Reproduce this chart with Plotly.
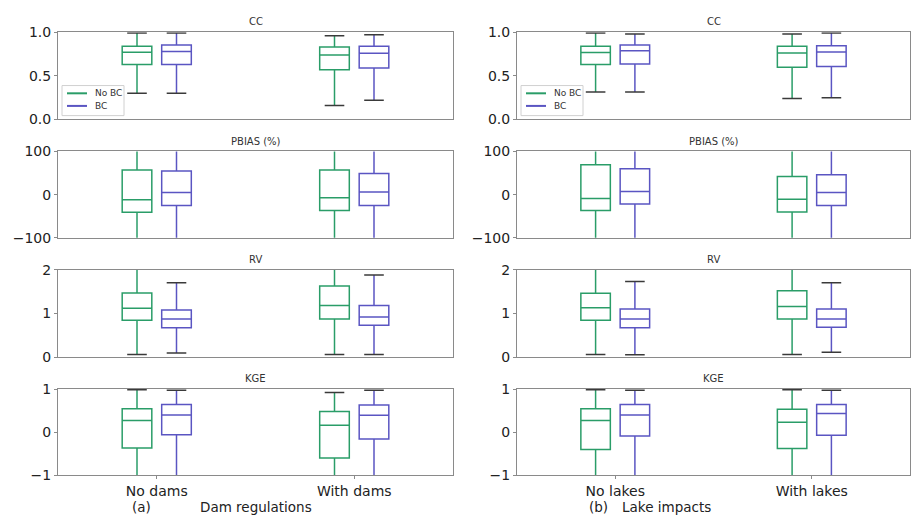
import plotly.graph_objects as go

W, H = 912, 524

metrics = ["CC", "PBIAS (%)", "RV", "KGE"]
cats_a = ["No dams", "With dams"]
cats_b = ["No lakes", "With lakes"]
series = ["No BC", "BC"]

# stats: [lowerfence, q1, median, q3, upperfence] per category, per series
# Panel (a) Dam regulations
a_nobc = {
    "CC":        [[0.30, 0.63, 0.77, 0.84, 0.99], [0.16, 0.57, 0.74, 0.83, 0.96]],
    "PBIAS (%)": [[-160, -41, -12, 57, 170], [-160, -37, -7, 57, 170]],
    "RV":        [[0.06, 0.84, 1.12, 1.47, 2.4], [0.06, 0.87, 1.18, 1.63, 2.5]],
    "KGE":       [[-1.6, -0.37, 0.27, 0.545, 0.985], [-1.8, -0.60, 0.16, 0.48, 0.92]],
}
a_bc = {
    "CC":        [[0.30, 0.63, 0.78, 0.855, 0.99], [0.22, 0.59, 0.76, 0.84, 0.97]],
    "PBIAS (%)": [[-150, -25, 5, 55, 160], [-150, -25, 6, 49, 160]],
    "RV":        [[0.09, 0.67, 0.87, 1.08, 1.70], [0.06, 0.73, 0.92, 1.18, 1.88]],
    "KGE":       [[-1.3, -0.06, 0.40, 0.64, 0.97], [-1.4, -0.16, 0.39, 0.63, 0.97]],
}
# Panel (b) Lake impacts
b_nobc = {
    "CC":        [[0.315, 0.63, 0.767, 0.84, 0.99], [0.24, 0.60, 0.763, 0.84, 0.98]],
    "PBIAS (%)": [[-160, -37, -9, 69, 180], [-160, -40, -11, 42, 160]],
    "RV":        [[0.06, 0.84, 1.13, 1.46, 2.4], [0.06, 0.87, 1.16, 1.52, 2.4]],
    "KGE":       [[-1.6, -0.40, 0.27, 0.545, 0.985], [-1.6, -0.38, 0.23, 0.53, 0.985]],
}
b_bc = {
    "CC":        [[0.315, 0.637, 0.789, 0.855, 0.98], [0.248, 0.607, 0.774, 0.844, 0.99]],
    "PBIAS (%)": [[-150, -22, 7, 60, 160], [-150, -25, 5, 46, 160]],
    "RV":        [[0.05, 0.67, 0.87, 1.10, 1.73], [0.11, 0.68, 0.87, 1.10, 1.70]],
    "KGE":       [[-1.3, -0.09, 0.40, 0.64, 0.97], [-1.3, -0.07, 0.43, 0.64, 0.97]],
}

y_ranges = {"CC": [0, 1.0], "PBIAS (%)": [-100, 100], "RV": [0, 2], "KGE": [-1, 1]}
y_ticks = {
    "CC": ([0, 0.5, 1.0], ["0.0", "0.5", "1.0"]),
    "PBIAS (%)": ([-100, 0, 100], ["\u2212100", "0", "100"]),
    "RV": ([0, 1, 2], ["0", "1", "2"]),
    "KGE": ([-1, 0, 1], ["\u22121", "0", "1"]),
}

GREEN = "#2a9d68"
PURPLE = "#5a55c2"
CAP = "#3a3a3a"
AXC = "#8a8a8a"
FONT = "DejaVu Sans"

# pixel layout
x_dom_px = [(58, 453), (517, 910)]
y_dom_px = [(25, 115), (148, 237), (270, 360), (393, 482)]

def xd(p):
    return [p[0] / W, p[1] / W]

def yd(p):
    return [1 - p[1] / H, 1 - p[0] / H]

def px(x):
    return x / W

def py(y):
    return 1 - y / H

fig = go.Figure()
layout = {}
annotations = []
shapes = []

offset = 0.1
bw = 0.15
cat_pos = [0.5, 1.5]

panels = [(cats_a, a_nobc, a_bc), (cats_b, b_nobc, b_bc)]
idx = 0
for r, m in enumerate(metrics):
    for c, (cats, nobc, bc) in enumerate(panels):
        idx += 1
        xa = "x" if idx == 1 else f"x{idx}"
        ya = "y" if idx == 1 else f"y{idx}"
        for sname, data, col, sgn in [("No BC", nobc, GREEN, -1), ("BC", bc, PURPLE, 1)]:
            st = data[m]
            xs = [p + sgn * offset for p in cat_pos]
            fig.add_trace(go.Box(
                x=xs,
                lowerfence=[s[0] for s in st],
                q1=[s[1] for s in st],
                median=[s[2] for s in st],
                q3=[s[3] for s in st],
                upperfence=[s[4] for s in st],
                width=bw,
                whiskerwidth=0,
                line=dict(color=col, width=1.5),
                fillcolor="rgba(0,0,0,0)",
                boxpoints=False,
                hoverinfo="skip",
                showlegend=False,
                name=sname,
                xaxis=xa, yaxis=ya,
            ))
            # whisker caps
            fig.add_trace(go.Scatter(
                x=xs + xs,
                y=[s[0] for s in st] + [s[4] for s in st],
                mode="markers",
                marker=dict(symbol="line-ew", size=14, line=dict(color=CAP, width=1.5)),
                showlegend=False, hoverinfo="skip",
                xaxis=xa, yaxis=ya,
            ))
        last = (r == len(metrics) - 1)
        layout["xaxis" if idx == 1 else f"xaxis{idx}"] = dict(
            domain=xd(x_dom_px[c]), range=[0, 2], anchor=ya,
            tickvals=cat_pos if last else [], ticktext=cats if last else [],
            showline=True, mirror=True, linecolor=AXC, linewidth=1,
            ticks="outside", ticklen=3, tickcolor=AXC,
            showgrid=False, zeroline=False,
            tickfont=dict(family=FONT, size=14, color="#222"),
        )
        tv, tt = y_ticks[m]
        layout["yaxis" if idx == 1 else f"yaxis{idx}"] = dict(
            domain=yd(y_dom_px[r]), range=y_ranges[m], anchor=xa,
            tickvals=tv, ticktext=tt,
            showline=True, mirror=True, linecolor=AXC, linewidth=1,
            ticks="outside", ticklen=3, tickcolor=AXC,
            showgrid=False, zeroline=False,
            tickfont=dict(family=FONT, size=14, color="#222"),
        )
        x0, x1 = x_dom_px[c]
        annotations.append(dict(
            text=m, x=(x0 + x1) / 2 / W, y=1 - (y_dom_px[r][0] - 3) / H,
            xref="paper", yref="paper", xanchor="center", yanchor="bottom",
            showarrow=False, font=dict(family=FONT, size=10, color="#333"),
        ))

# legends (matplotlib-style boxes in the top row of each panel)
for lx in [62, 521]:
    shapes.append(dict(type="rect", xref="paper", yref="paper",
                       x0=px(lx), x1=px(lx + 62), y0=py(111), y1=py(80),
                       line=dict(color="#d0d0d0", width=1), fillcolor="white",
                       layer="above"))
    for i, (sname, col) in enumerate(zip(series, [GREEN, PURPLE])):
        yy = 88 + i * 13
        shapes.append(dict(type="line", xref="paper", yref="paper",
                           x0=px(lx + 5), x1=px(lx + 25), y0=py(yy), y1=py(yy),
                           line=dict(color=col, width=2), layer="above"))
        annotations.append(dict(
            text=sname, x=px(lx + 31), y=py(yy), xref="paper", yref="paper",
            xanchor="left", yanchor="middle", showarrow=False,
            font=dict(family=FONT, size=9, color="#333"),
        ))

# bottom labels
for txt, cx in [("(a)", 141), ("Dam regulations", 256), ("(b)", 598), ("Lake impacts", 666)]:
    annotations.append(dict(
        text=txt, x=cx / W, y=0, xref="paper", yref="paper",
        xanchor="center", yanchor="bottom", showarrow=False, borderpad=0,
        font=dict(family=FONT, size=13.5, color="#222"),
    ))

fig.update_layout(
    width=W, height=H,
    margin=dict(l=0, r=0, t=0, b=0),
    paper_bgcolor="white", plot_bgcolor="white",
    boxmode="overlay",
    showlegend=False,
    annotations=annotations,
    shapes=shapes,
    **layout,
)

fig.write_html("out.html")
